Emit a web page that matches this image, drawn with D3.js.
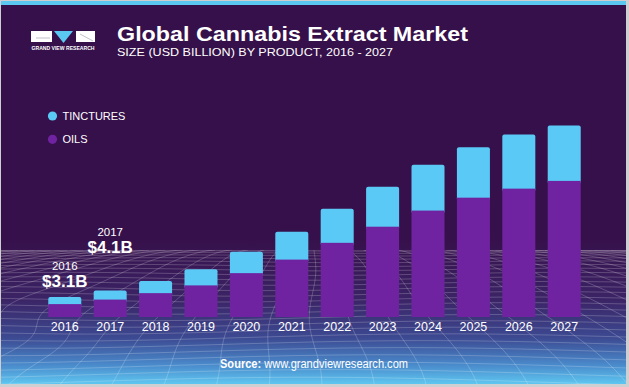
<!DOCTYPE html>
<html><head><meta charset="utf-8">
<script src="https://cdn.jsdelivr.net/npm/d3@7/dist/d3.min.js"></script>
<style>html,body{margin:0;padding:0;background:#fff;}svg{display:block;}</style>
</head><body>
<svg id="c" width="629" height="387"></svg>
<script>
const years = ["2016","2017","2018","2019","2020","2021","2022","2023","2024","2025","2026","2027"];
const oils = [2.0, 2.7, 3.7, 4.9, 6.8, 8.9, 11.5, 14.0, 16.5, 18.5, 19.9, 21.1];
const tinctures = [1.1, 1.4, 1.9, 2.5, 3.3, 4.3, 5.3, 6.2, 7.1, 7.8, 8.4, 8.6];
const seriesNames = ["TINCTURES", "OILS"];
const callouts = [{year:"2016", label:"$3.1B"}, {year:"2017", label:"$4.1B"}];

const W = 629, H = 387;
const svg = d3.select("#c");
const defs = svg.append("defs");
const bg = defs.append("linearGradient").attr("id","bg").attr("x1",0).attr("y1",0).attr("x2",0).attr("y2",1);
[[0,"#36104a"],[0.62,"#36104a"],[0.78,"#3b2466"],[0.88,"#3c4a92"],[0.95,"#4a8acb"],[1,"#5ec6f0"]]
  .forEach(s=>bg.append("stop").attr("offset",s[0]).attr("stop-color",s[1]));

// frame
svg.append("rect").attr("width",W).attr("height",H).attr("fill","#cfcfd2");
svg.append("rect").attr("x",1).attr("y",1).attr("width",625).attr("height",383).attr("fill","url(#bg)");
svg.append("rect").attr("x",1).attr("y",1).attr("width",625).attr("height",4).attr("fill","#5bc8f2");

// decorative mesh
const clip = defs.append("clipPath").attr("id","cl");
clip.append("rect").attr("x",1).attr("y",250).attr("width",625).attr("height",134);
const mesh = svg.append("g").attr("clip-path","url(#cl)").attr("fill","none")
  .attr("stroke","#ffffff").attr("stroke-opacity",0.26).attr("stroke-width",0.8);
const hy = 250, cx = 314;
function warp(u, v){
  let y = hy + 140*Math.pow(v,1.5);
  let spread = 1 + 2.2*v;
  let x = cx + u*330*spread;
  y += 5*Math.sin(u*7 + v*5)*v;
  x += 8*Math.sin(v*8 + u*3)*v;
  const d = Math.exp(-Math.pow((x-10)/70,2)) * Math.exp(-Math.pow((y-320)/45,2));
  x += 30*d*Math.sin((y-320)/20);
  return [x,y];
}
const line = d3.line().curve(d3.curveBasis);
for(let i=0;i<=26;i++){
  const v = i/26;
  const pts = d3.range(0,81).map(k=>warp(-1.1 + 2.2*k/80, v));
  mesh.append("path").attr("d", line(pts));
}
for(let j=0;j<=44;j++){
  const u = -1.1 + 2.2*j/44;
  const pts = d3.range(0,41).map(k=>warp(u, k/40));
  mesh.append("path").attr("d", line(pts));
}

// logo
const logo = svg.append("g");
logo.append("rect").attr("x",31).attr("y",31).attr("width",21).attr("height",11).attr("fill","#fff");
logo.append("line").attr("x1",36).attr("x2",50).attr("y1",38).attr("y2",38).attr("stroke","#9a9aa8").attr("stroke-width",0.6);
logo.append("path").attr("d","M54,31 L73,31 L63.5,43 Z").attr("fill","#5bc8f2");
logo.append("rect").attr("x",76).attr("y",31).attr("width",19).attr("height",11).attr("fill","#fff");
logo.append("path").attr("d","M80,34 L93,41").attr("stroke","#9a9aa8").attr("stroke-width",0.6);
logo.append("text").attr("x",63).attr("y",50).attr("text-anchor","middle").attr("fill","#fff")
  .attr("font-family","Arial, Liberation Sans, sans-serif").attr("font-weight","bold").attr("font-size",4.6)
  .attr("textLength",63).attr("lengthAdjust","spacingAndGlyphs").text("GRAND VIEW RESEARCH");

// titles
svg.append("text").attr("x",117).attr("y",41).attr("fill","#fff")
  .attr("font-family","Liberation Sans, Arial, sans-serif").attr("font-weight","bold").attr("font-size",20)
  .attr("textLength",351).attr("lengthAdjust","spacingAndGlyphs").text("Global Cannabis Extract Market");
svg.append("text").attr("x",117).attr("y",55.5).attr("fill","#fff")
  .attr("font-family","Liberation Sans, Arial, sans-serif").attr("font-size",11.5)
  .attr("textLength",276).attr("lengthAdjust","spacingAndGlyphs").text("SIZE (USD BILLION) BY PRODUCT, 2016 - 2027");

// scales
const x = d3.scaleBand().domain(years).range([42.1, 586.9]).paddingInner(0.273).paddingOuter(0.136);
const y = d3.scaleLinear().domain([0, 30]).range([317, 317 - 30*6.45]);
const colors = {TINCTURES:"#5bc9f5", OILS:"#7023a0"};

const data = years.map((yr,i)=>({year:yr, oils:oils[i], tinc:tinctures[i], total:oils[i]+tinctures[i]}));
const bars = svg.append("g");
bars.selectAll("rect.t").data(data).join("rect").attr("class","t")
  .attr("x",d=>x(d.year)).attr("width",x.bandwidth())
  .attr("y",d=>y(d.total)).attr("height",d=>y(d.oils)-y(d.total)+3)
  .attr("rx",2).attr("fill",colors.TINCTURES);
bars.selectAll("rect.o").data(data).join("rect").attr("class","o")
  .attr("x",d=>x(d.year)).attr("width",x.bandwidth())
  .attr("y",d=>y(d.oils)).attr("height",d=>y(0)-y(d.oils))
  .attr("fill",colors.OILS);

// x axis labels
const xAxis = d3.axisBottom(x).tickSize(0).tickPadding(0);
const ax = svg.append("g").attr("transform",`translate(0,${y(0)})`).call(xAxis);
ax.select(".domain").remove();
ax.selectAll("text").attr("fill","#fff").attr("font-size",12.5)
  .attr("font-family","Liberation Sans, Arial, sans-serif").attr("dy","1.1em").attr("y",0);

// legend
const lg = svg.append("g");
seriesNames.forEach((s,i)=>{
  lg.append("circle").attr("cx",52.5).attr("cy",116 + i*23.3).attr("r",4.6).attr("fill",colors[s]);
  lg.append("text").attr("x",62.5).attr("y",120 + i*23.3).attr("fill","#fff")
    .attr("font-family","Liberation Sans, Arial, sans-serif").attr("font-size",11).text(s);
});

// callouts
const offsets = {"2016":10, "2017":38};
callouts.forEach(c=>{
  const d = data.find(e=>e.year===c.year);
  const cxp = x(c.year) + x.bandwidth()/2;
  const base = y(d.total) - offsets[c.year];
  svg.append("text").attr("x",cxp).attr("y",base).attr("text-anchor","middle").attr("fill","#fff")
    .attr("font-family","Liberation Sans, Arial, sans-serif").attr("font-weight","bold").attr("font-size",17).text(c.label);
  svg.append("text").attr("x",cxp).attr("y",base-17).attr("text-anchor","middle").attr("fill","#fff")
    .attr("font-family","Liberation Sans, Arial, sans-serif").attr("font-size",11.5).text(c.year);
});

// source
const src = svg.append("text").attr("x",220).attr("y",368).attr("fill","#fff")
  .attr("font-family","Liberation Sans, Arial, sans-serif").attr("font-size",12)
  .attr("textLength",188).attr("lengthAdjust","spacingAndGlyphs");
src.append("tspan").attr("font-weight","bold").text("Source: ");
src.append("tspan").text("www.grandviewresearch.com");
</script>
</body></html>
